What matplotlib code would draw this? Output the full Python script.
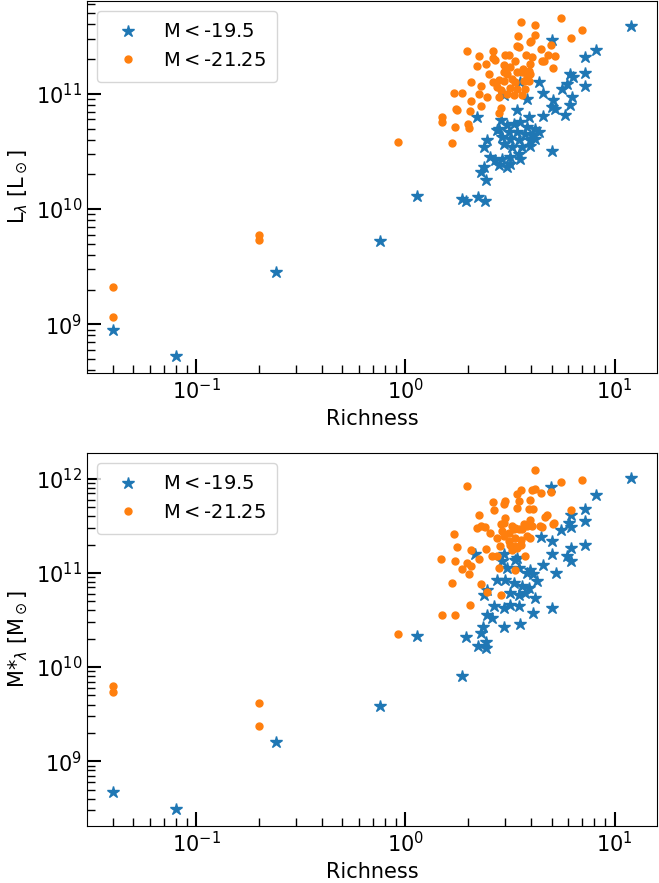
import numpy as np
import matplotlib
matplotlib.use("Agg")
import matplotlib.pyplot as plt

# (richness, L_lambda) for the two magnitude cuts
lum_faint = [
	(0.04, 9.0e8), (0.08, 5.3e8), (0.24, 2.84e9), (0.76, 5.27e9), (1.135, 1.29e10),
	(1.87, 1.23e10), (1.96, 1.17e10), (2.22, 1.26e10), (2.41, 1.17e10), (2.44, 1.77e10),
	(2.29, 2.09e10), (12.0, 3.91e11), (8.19, 2.41e11), (7.21, 2.08e11), (7.21, 1.51e11),
	(7.21, 1.16e11), (5.01, 2.95e11), (6.12, 1.49e11), (6.35, 1.39e11), (5.90, 1.22e11),
	(5.59, 1.10e11), (4.33, 1.26e11), (3.54, 1.26e11), (4.57, 1.01e11), (3.81, 9.06e10),
	(2.95, 9.67e10), (5.10, 8.88e10), (6.23, 9.35e10), (5.01, 7.66e10), (5.19, 7.42e10),
	(6.12, 7.93e10), (5.79, 6.61e10), (4.57, 6.48e10), (3.42, 7.17e10), (3.88, 6.27e10),
	(2.21, 6.27e10), (2.85, 5.87e10), (2.80, 4.97e10), (2.74, 4.81e10), (3.06, 5.31e10),
	(3.29, 5.50e10), (3.54, 5.67e10), (3.81, 5.13e10), (4.17, 4.97e10), (4.33, 4.65e10),
	(3.12, 4.65e10), (3.42, 4.65e10), (3.74, 4.50e10), (4.03, 4.35e10), (2.90, 4.21e10),
	(3.18, 4.07e10), (3.48, 3.94e10), (3.95, 3.94e10), (4.17, 4.07e10), (2.95, 3.68e10),
	(3.23, 3.44e10), (3.61, 3.44e10), (3.95, 3.56e10), (3.48, 3.02e10), (5.01, 3.16e10),
	(2.46, 3.94e10), (2.37, 3.44e10), (2.55, 2.82e10), (2.69, 2.64e10), (2.90, 2.73e10),
	(3.18, 2.82e10), (3.54, 2.73e10), (2.37, 2.31e10), (2.80, 2.39e10), (3.06, 2.31e10),
	(3.18, 2.47e10),
]
lum_bright = [
	(5.53, 4.56e11), (3.57, 4.18e11), (4.15, 3.99e11), (7.01, 3.59e11), (4.15, 3.27e11),
	(3.45, 3.18e11), (6.21, 3.08e11), (3.93, 2.80e11), (3.98, 2.86e11), (3.42, 2.62e11),
	(3.48, 2.54e11), (4.95, 2.66e11), (1.98, 2.37e11), (2.63, 2.37e11), (4.43, 2.46e11),
	(3.01, 2.19e11), (3.12, 2.19e11), (2.26, 2.11e11), (2.62, 2.05e11), (2.69, 1.97e11),
	(3.78, 2.19e11), (4.03, 2.08e11), (4.80, 2.19e11), (5.18, 2.12e11), (4.52, 1.94e11),
	(4.61, 1.92e11), (3.35, 1.91e11), (2.21, 1.76e11), (2.42, 1.80e11), (2.97, 1.79e11),
	(3.95, 1.82e11), (5.06, 1.68e11), (3.64, 1.65e11), (3.88, 1.59e11), (3.18, 1.70e11),
	(2.95, 1.54e11), (3.06, 1.49e11), (2.51, 1.49e11), (3.42, 1.54e11), (3.61, 1.54e11),
	(3.81, 1.44e11), (3.95, 1.49e11), (2.05, 1.26e11), (2.29, 1.18e11), (2.62, 1.26e11),
	(2.80, 1.33e11), (2.95, 1.30e11), (3.23, 1.35e11), (3.35, 1.26e11), (3.68, 1.30e11),
	(3.88, 1.30e11), (1.71, 1.01e11), (1.87, 1.01e11), (2.25, 1.00e11), (2.46, 9.35e10),
	(2.74, 1.14e11), (2.85, 1.08e11), (3.18, 1.13e11), (3.42, 1.10e11), (3.74, 1.10e11),
	(2.80, 9.35e10), (3.06, 1.00e11), (3.29, 9.67e10), (3.61, 9.67e10), (2.07, 8.63e10),
	(2.29, 7.87e10), (1.74, 7.32e10), (1.77, 7.30e10), (2.03, 7.07e10), (2.87, 7.57e10),
	(1.50, 6.27e10), (1.49, 5.67e10), (1.73, 5.20e10), (2.00, 5.42e10), (2.01, 5.07e10),
	(2.81, 6.79e10), (1.68, 3.78e10), (0.04, 2.09e9), (0.04, 1.15e9), (0.20, 5.9e9),
	(0.20, 5.4e9), (0.92, 3.84e10),
]

# (richness, stellar mass)
mass_faint = [
	(0.04, 4.68e8), (0.08, 3.11e8), (0.24, 1.59e9), (0.76, 3.9e9), (1.135, 2.12e10),
	(1.87, 8.08e9), (1.96, 2.09e10), (2.22, 1.66e10), (2.42, 1.59e10), (2.44, 1.83e10),
	(2.29, 2.30e10), (2.35, 2.67e10), (2.97, 2.64e10), (3.52, 2.89e10), (4.07, 3.75e10),
	(5.01, 4.24e10), (12.0, 1.02e12), (4.97, 8.22e11), (8.19, 6.70e11), (7.21, 4.80e11),
	(6.19, 4.07e11), (6.05, 3.40e11), (6.19, 3.06e11), (7.21, 3.54e11), (5.55, 2.82e11),
	(4.46, 2.39e11), (5.01, 2.17e11), (7.21, 2.00e11), (6.19, 1.85e11), (5.90, 1.53e11),
	(6.19, 1.35e11), (5.01, 1.60e11), (4.54, 1.20e11), (5.24, 1.00e11), (4.07, 9.78e10),
	(3.42, 1.44e11), (2.95, 1.60e11), (2.16, 1.60e11), (2.90, 1.33e11), (3.06, 1.13e11),
	(3.35, 1.38e11), (3.48, 1.13e11), (3.81, 1.00e11), (3.95, 1.08e11), (4.25, 8.15e10),
	(2.74, 8.49e10), (3.01, 8.49e10), (3.29, 7.82e10), (3.61, 7.21e10), (3.88, 6.92e10),
	(2.46, 6.64e10), (2.37, 5.88e10), (3.18, 6.12e10), (3.48, 5.88e10), (3.74, 6.12e10),
	(4.17, 5.42e10), (2.65, 4.42e10), (2.95, 4.24e10), (3.18, 4.60e10), (3.48, 4.42e10),
	(2.46, 3.60e10), (2.60, 3.30e10),
]
mass_bright = [
	(4.15, 1.24e12), (5.53, 9.2e11), (7.01, 9.6e11), (1.98, 8.34e11), (4.15, 7.8e11),
	(4.03, 7.6e11), (4.95, 7.3e11), (4.43, 7.0e11), (3.57, 7.5e11), (3.42, 6.81e11),
	(2.63, 5.6e11), (2.65, 4.71e11), (3.01, 5.78e11), (2.95, 5.33e11), (3.48, 5.78e11),
	(3.42, 4.91e11), (3.95, 5.9e11), (4.07, 4.8e11), (3.88, 4.8e11), (6.21, 4.71e11),
	(2.26, 4.07e11), (2.21, 3.0e11), (2.40, 3.1e11), (2.30, 3.12e11), (2.53, 2.67e11),
	(3.01, 3.85e11), (2.95, 3.41e11), (2.85, 3.27e11), (3.23, 3.13e11), (3.35, 3.01e11),
	(3.68, 3.27e11), (3.81, 3.13e11), (3.95, 3.69e11), (4.03, 3.13e11), (4.40, 3.13e11),
	(4.52, 3.10e11), (4.67, 3.95e11), (4.78, 4.07e11), (5.06, 3.27e11), (5.14, 3.35e11),
	(3.29, 2.89e11), (3.48, 2.89e11), (3.61, 2.89e11), (2.90, 2.77e11), (3.12, 2.67e11),
	(2.74, 2.36e11), (2.95, 2.46e11), (3.12, 2.17e11), (3.35, 2.36e11), (3.57, 2.26e11),
	(3.81, 2.46e11), (3.95, 2.36e11), (3.18, 2.00e11), (3.35, 1.92e11), (3.57, 2.00e11),
	(3.23, 1.77e11), (3.42, 1.85e11), (1.71, 2.56e11), (1.77, 1.90e11), (2.07, 1.77e11),
	(2.44, 1.81e11), (2.82, 1.92e11), (2.60, 1.52e11), (2.74, 1.50e11), (3.74, 1.52e11),
	(1.48, 1.41e11), (1.73, 1.34e11), (2.25, 1.41e11), (1.87, 1.10e11), (1.98, 1.28e11),
	(2.01, 9.8e10), (2.05, 1.18e11), (2.81, 1.13e11), (3.35, 1.08e11), (1.68, 7.9e10),
	(2.31, 7.7e10), (2.46, 6.2e10), (2.87, 5.8e10), (2.03, 4.6e10), (1.50, 3.6e10),
	(1.73, 3.55e10), (0.92, 2.26e10), (0.04, 6.22e9), (0.04, 5.37e9), (0.20, 4.2e9),
	(0.20, 2.38e9),
]

labels = ["M$<$-19.5", "M$<$-21.25"]
ylabels = [r"L$_\lambda$ [L$_\odot$]", r"M*$_\lambda$ [M$_\odot$]"]

plt.rcParams['font.size'] = 15

fig = plt.figure(figsize=(6.59, 8.83), dpi=100)
ax1 = fig.add_axes([0.132, 0.5776, 0.865, 0.4213])
ax2 = fig.add_axes([0.132, 0.0646, 0.865, 0.4224])

panels = [(ax1, lum_faint, lum_bright, ylabels[0]),
	(ax2, mass_faint, mass_bright, ylabels[1])]

for ax, faint, bright, ylab in panels:
	x1, y1 = np.array(faint).T
	x2, y2 = np.array(bright).T
	ax.plot(x1, y1, '*', color='C0', ms=9, label=labels[0])
	ax.plot(x2, y2, '.', color='C1', ms=10, label=labels[1])
	ax.set_xscale('log')
	ax.set_yscale('log')
	ax.set_xlabel("Richness")
	ax.set_ylabel(ylab)
	ax.tick_params(which='major', direction='in', length=10, width=1.5)
	ax.tick_params(which='minor', direction='in', length=6, width=1)
	ax.legend(loc='upper left', fontsize=14, borderpad=0.6)

fig.savefig("out.png", dpi=100)
